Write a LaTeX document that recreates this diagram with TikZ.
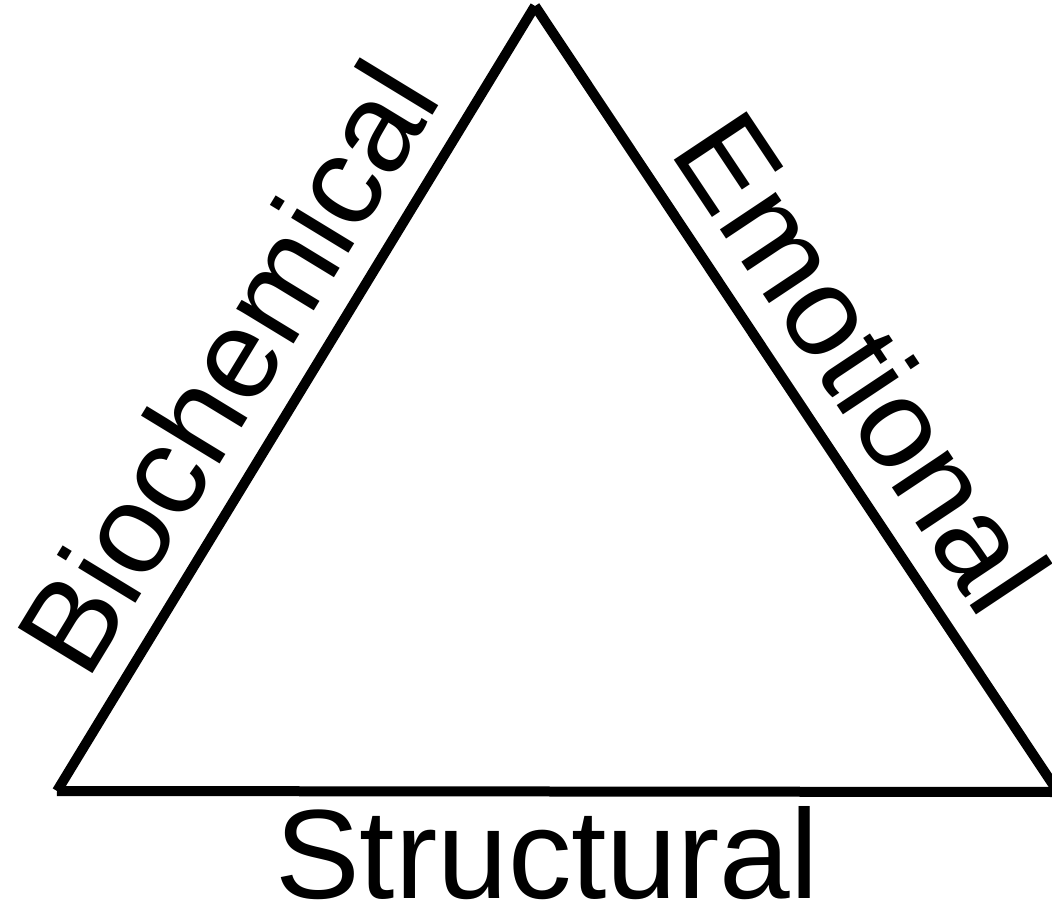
\documentclass[tikz,border=0pt]{standalone}
\usepackage{fontspec}
\setmainfont{Liberation Sans}
\usetikzlibrary{positioning}

\tikzset{
	side/.style={line width=10pt, line cap=butt},
	lbl/.style={inner sep=0pt, font=\fontsize{127}{150}\selectfont}
}

\begin{document}
\begin{tikzpicture}[x=1pt, y=-1pt]
	\useasboundingbox (0,0) rectangle (1052,915);
	\coordinate (apex) at (535,6);
	\coordinate (left) at (57,791);
	\coordinate (right) at (1058,792);
	\draw[side] (left) -- (apex);
	\draw[side] (apex) -- (right);
	\draw[side] (left) -- (right);
	\path (left) -- (apex) node[lbl, sloped, above=29pt, pos=0.49] (bio) {Biochemical};
	\path (apex) -- (right) node[lbl, sloped, above=29pt, pos=0.506] (emo) {Emotional};
	\node[lbl, anchor=base] (str) at (547,898) {Structural};
\end{tikzpicture}
\end{document}
